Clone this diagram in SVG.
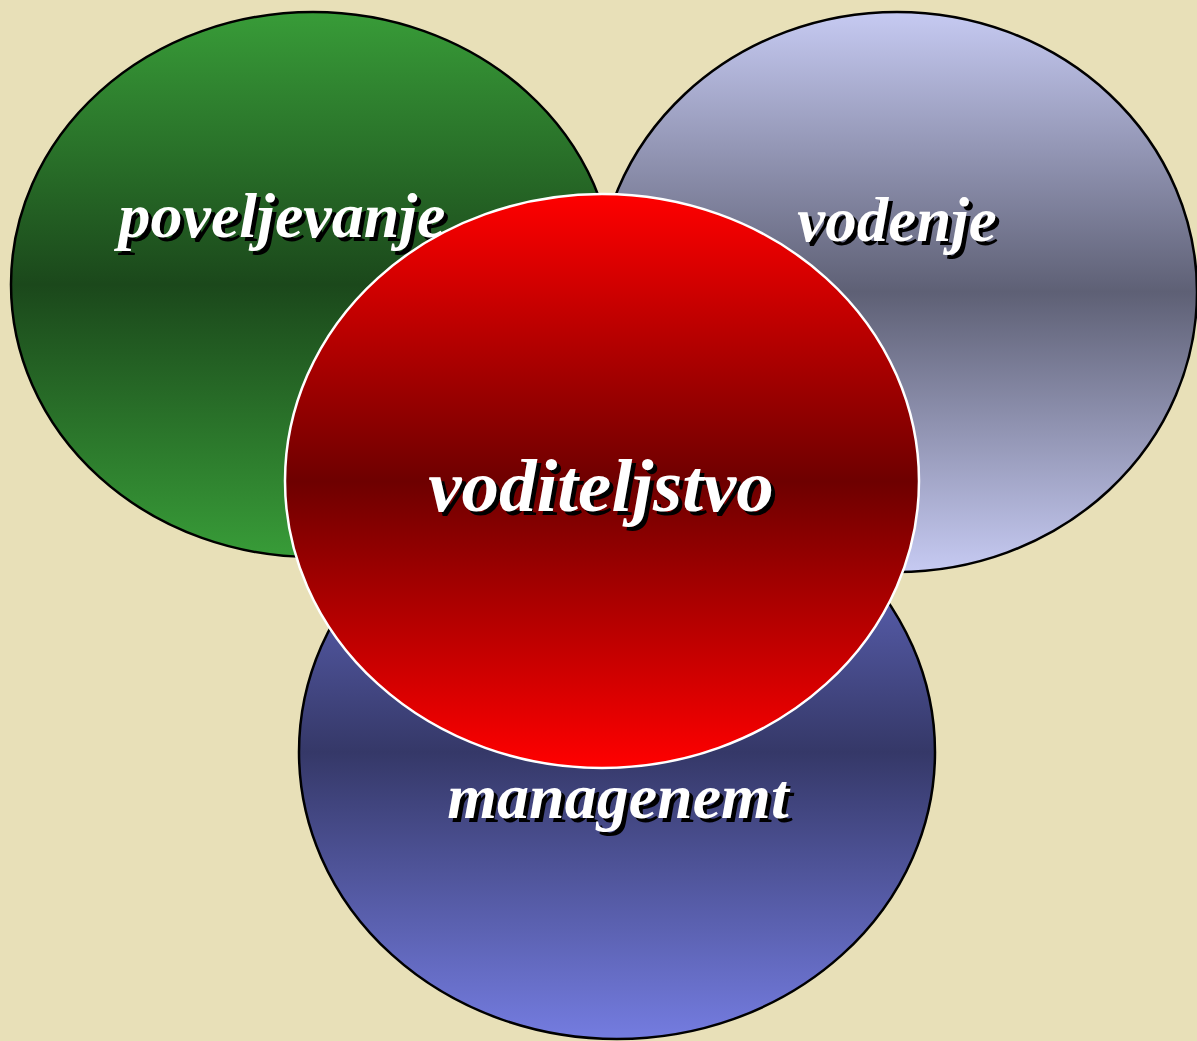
<svg xmlns="http://www.w3.org/2000/svg" width="1197" height="1041" viewBox="0 0 1197 1041">
<defs>
<linearGradient id="gGreen" x1="0" y1="0" x2="0" y2="1">
<stop offset="0" stop-color="#389C38"/><stop offset="0.5" stop-color="#1B481B"/><stop offset="1" stop-color="#389C38"/>
</linearGradient>
<linearGradient id="gGrey" x1="0" y1="0" x2="0" y2="1">
<stop offset="0" stop-color="#C6CAF2"/><stop offset="0.5" stop-color="#5E6075"/><stop offset="1" stop-color="#C6CAF2"/>
</linearGradient>
<linearGradient id="gBlue" x1="0" y1="0" x2="0" y2="1">
<stop offset="0" stop-color="#7078DC"/><stop offset="0.5" stop-color="#353868"/><stop offset="1" stop-color="#747CE0"/>
</linearGradient>
<linearGradient id="gRed" x1="0" y1="0" x2="0" y2="1">
<stop offset="0" stop-color="#FF0000"/><stop offset="0.5" stop-color="#6E0000"/><stop offset="1" stop-color="#FF0000"/>
</linearGradient>
<style>
.lbl{font-family:"Liberation Serif","Times New Roman",serif;font-weight:bold;font-style:italic;text-anchor:middle;}
.sh{fill:#000;}
.fg{fill:#fff;}
.dark{stroke:#000;stroke-width:2.5;}
</style>
</defs>
<rect width="1197" height="1041" fill="#E8E0B8"/>
<g id="node-managenemt">
<ellipse cx="617" cy="752" rx="318" ry="287" fill="url(#gBlue)" class="dark"/>
</g>
<g id="node-poveljevanje">
<ellipse cx="313" cy="284.5" rx="302" ry="272.5" fill="url(#gGreen)" class="dark"/>
<text class="lbl sh" x="286" y="241" font-size="64">poveljevanje</text>
<text class="lbl fg" x="282" y="237" font-size="64">poveljevanje</text>
</g>
<g id="node-vodenje">
<ellipse cx="897" cy="292" rx="300" ry="280" fill="url(#gGrey)" class="dark"/>
<text class="lbl sh" x="901" y="245" font-size="63">vodenje</text>
<text class="lbl fg" x="897" y="241" font-size="63">vodenje</text>
</g>
<g id="node-voditeljstvo">
<ellipse cx="602" cy="481" rx="317" ry="287" fill="url(#gRed)" stroke="#fff" stroke-width="2.5"/>
<text class="lbl sh" x="605" y="515" font-size="75">voditeljstvo</text>
<text class="lbl fg" x="601" y="511" font-size="75">voditeljstvo</text>
</g>
<g id="label-managenemt">
<text class="lbl sh" x="622" y="822" font-size="64">managenemt</text>
<text class="lbl fg" x="618" y="818" font-size="64">managenemt</text>
</g>
<g id="connectors"/>
</svg>
